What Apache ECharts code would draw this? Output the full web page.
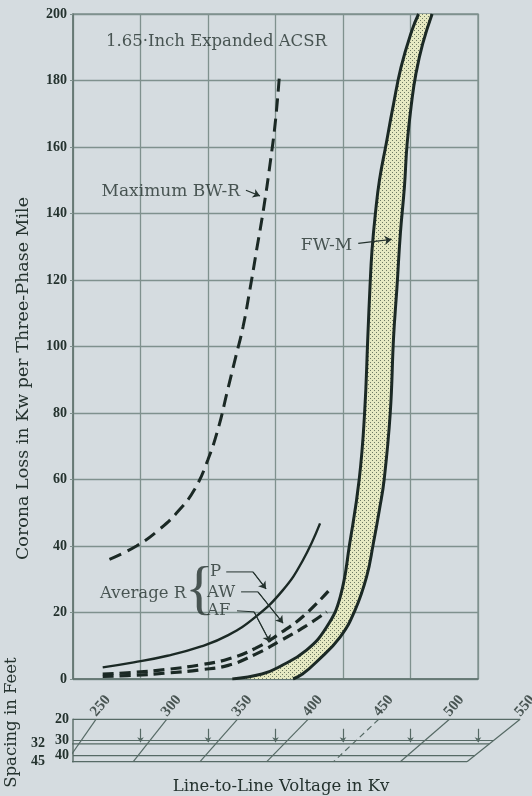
<!DOCTYPE html>
<html><head><meta charset="utf-8">
<script src="https://cdn.jsdelivr.net/npm/echarts@6/dist/echarts.min.js"></script>
<style>html,body{margin:0;padding:0;background:#d5dce0;}#c{width:532px;height:796px;}</style>
</head><body><div id="c"></div>
<script>
// ---------- DATA ----------
const voltageTicks = [250, 300, 350, 400, 450, 500, 550];
const lossTicks = [0, 20, 40, 60, 80, 100, 120, 140, 160, 180, 200];
const spacingTicks = [20, 30, 32, 40, 45];

// [kV, kW per three-phase mile]
const maxBWR = [[277,36],[297,40],[314,45],[328,50.5],[340,57],[350,66],[358,76],[364,86],[370,96],[376,106],[381,117],[386,129],[391,141],[396,155],[400,168],[403,182]];
const avgP  = [[272,3.5],[295,5.0],[320,7.0],[345,9.8],[365,13.2],[385,18.6],[405,26.5],[420,35.5],[433,46.8]];
const avgAW = [[272,1.5],[295,2.0],[320,2.9],[345,4.3],[365,6.0],[385,9.2],[405,14.2],[422,19.4],[440,26.8]];
const avgAF = [[272,0.8],[295,1.1],[320,1.8],[345,2.8],[365,4.1],[385,7.4],[405,11.8],[422,15.8],[438,20.2]];
const fwmLow  = [[368,0],[390,1.5],[403,3.7],[423,8.7],[438,15.7],[448,24.8],[455,40.8],[462,60],[466,80],[468.5,104],[470,118],[471.5,129],[474,140],[477,150],[482,161],[487,172],[493,184],[501,195],[506,200]];
const fwmHigh = [[413,0],[420,1.5],[430.5,5.2],[448,12.7],[459,20.8],[467.5,30.8],[472.5,40.8],[477,51],[480.5,60],[485,80],[487.5,103],[490,118],[492.5,134],[495.5,148],[497.5,161],[501,174],[504,182],[509,191],[516,200]];

// ---------- STYLE ----------
const SERIF = '"DejaVu Serif", serif';
const TIMES = '"Liberation Serif", serif';
const INK = '#1b2925';
const TXT = '#24322e';
const GRIDC = '#7f918e';
const PGRID = '#566a65';

// spacing axis is logarithmic: plotted as ln(spacing)
const L = Math.log;
// perspective of the spacing chart: main-scale position of voltage V at spacing s
function persp(V, s) {
  const t = L(s / 20) / L(45 / 20);
  const top = 267.0 + 1.0474 * (V - 250);
  const bot = 245.2 + 0.9889 * (V - 250);
  return top + (bot - top) * t;
}

// dotted fill pattern
const pc = document.createElement('canvas');
pc.width = 4; pc.height = 4;
const g = pc.getContext('2d');
g.fillStyle = '#e6e9c2'; g.fillRect(0, 0, 4, 4);
g.fillStyle = 'rgba(60,75,60,0.7)';
g.fillRect(0, 0, 1, 1); g.fillRect(2, 2, 1, 1);

const series = [];

// band fill
series.push({
  type: 'custom', xAxisIndex: 0, yAxisIndex: 0, clip: true, silent: true, z: 1,
  data: [[0, 0]],
  renderItem: function (params, api) {
    const pts = [];
    fwmLow.forEach(p => pts.push(api.coord(p)));
    fwmHigh.slice().reverse().forEach(p => pts.push(api.coord(p)));
    return { type: 'polygon', shape: { points: pts, smooth: 0.25 }, style: { fill: { image: pc, repeat: 'repeat' }, stroke: null } };
  }
});

function curve(data, width, dash) {
  return {
    type: 'line', xAxisIndex: 0, yAxisIndex: 0, data: data, smooth: 0.45, symbol: 'none', silent: true, z: 3,
    lineStyle: { color: INK, width: width, type: dash || 'solid', cap: 'butt' }
  };
}
series.push(curve(fwmLow, 3));
series.push(curve(fwmHigh, 3));
series.push(curve(avgP, 2.4));
series.push(curve(avgAW, 3.2, [11, 6]));
series.push(curve(avgAF, 3.2, [11, 6]));
series.push(curve(maxBWR, 3, [13, 7]));

// annotation texts (placed in data coordinates)
function txt(name, pos, align, size, font, weight) {
  return {
    name: name, value: pos,
    label: { show: true, formatter: '{b}', position: 'inside', align: align, verticalAlign: 'middle',
      fontFamily: font || SERIF, fontSize: size || 16, color: TXT, fontWeight: weight || 'normal' }
  };
}
series.push({
  type: 'scatter', xAxisIndex: 0, yAxisIndex: 0, symbolSize: 0, silent: true, z: 5,
  data: [
    txt('1.65\u00B7Inch Expanded ACSR', [274.4, 191.6], 'left', 16.5),
    txt('Maximum BW-R', [373.7, 146.5], 'right', 17),
    txt('FW-M', [456.7, 130.5], 'right', 17),
    txt('Average R', [333.8, 25.6], 'right', 16.5),
    txt('{', [343.6, 26.4], 'center', 60, TIMES),
    txt('P', [351.5, 32.2], 'left', 16.5),
    txt('AW', [349.3, 25.9], 'left', 16.5),
    txt('AF', [349.3, 20.5], 'left', 16.5)
  ]
});

// leader lines
series.push({
  type: 'lines', coordinateSystem: 'cartesian2d', xAxisIndex: 0, yAxisIndex: 0, polyline: true, silent: true, z: 4,
  lineStyle: { color: TXT, width: 1, opacity: 1 },
  data: [
    { coords: [[363.5, 32.2], [383.3, 32.2], [393, 27.1]] },
    { coords: [[374.5, 26.2], [387, 26.2], [405.6, 16.8]] },
    { coords: [[371.5, 20.5], [384.1, 20.2], [395.9, 11.1]] }
  ]
});
series.push({
  type: 'lines', coordinateSystem: 'cartesian2d', xAxisIndex: 0, yAxisIndex: 0, silent: true, z: 4,
  symbol: ['none', 'arrow'], symbolSize: 7,
  lineStyle: { color: TXT, width: 1.2, opacity: 1 },
  data: [
    { coords: [[383.3, 32.2], [393, 27.1]] },
    { coords: [[387, 26.2], [405.6, 16.8]] },
    { coords: [[384.1, 20.2], [395.9, 11.1]] },
    { coords: [[378.1, 147], [388.5, 145.3]] },
    { coords: [[461.3, 131], [486, 132.2]] }
  ]
});

// ---------- spacing (perspective) chart ----------
voltageTicks.forEach(function (V) {
  series.push({
    type: 'line', xAxisIndex: 1, yAxisIndex: 1, symbol: 'none', silent: true, clip: true,
    data: [[persp(V, 20), L(20)], [persp(V, 45), L(45)]],
    lineStyle: { color: PGRID, width: 1.2, type: V === 450 ? [6, 4] : 'solid' }
  });
});
spacingTicks.forEach(function (s) {
  const x0 = (s === 32 || s === 45) ? 233 : 250;
  series.push({
    type: 'line', xAxisIndex: 1, yAxisIndex: 1, symbol: 'none', silent: true, clip: false,
    data: [[x0, L(s)], [persp(550, s), L(s)]],
    lineStyle: { color: PGRID, width: 1.2 }
  });
});
series.push({
  type: 'lines', coordinateSystem: 'cartesian2d', xAxisIndex: 1, yAxisIndex: 1, silent: true,
  symbol: ['none', 'arrow'], symbolSize: 5,
  lineStyle: { color: PGRID, width: 1.2, opacity: 1 },
  data: voltageTicks.slice(1).map(V => ({ coords: [[V, L(24)], [V, L(31)]] }))
});
// rotated voltage labels at the spacing-20 ends
series.push({
  type: 'scatter', xAxisIndex: 1, yAxisIndex: 1, symbolSize: 0, silent: true,
  data: voltageTicks.map(V => ({ value: [persp(V, 20), L(20)], name: String(V) })),
  label: { show: true, formatter: '{b}', position: 'inside', align: 'left', verticalAlign: 'middle', rotate: 50,
    offset: [2, -5], fontFamily: TIMES, fontWeight: 'bold', fontSize: 15, color: TXT }
});

const option = {
  backgroundColor: '#d5dce0',
  animation: false,
  grid: [
    { left: 73, top: 14, width: 405, height: 665, show: true, borderColor: GRIDC, borderWidth: 1.3, backgroundColor: 'transparent',
      containLabel: false, outerBoundsMode: 'none' },
    { left: 73, top: 719.3, width: 459, height: 42.4, containLabel: false, outerBoundsMode: 'none' }
  ],
  xAxis: [
    { gridIndex: 0, type: 'value', min: 250, max: 550, interval: 50,
      axisLabel: { show: false }, axisTick: { show: false },
      axisLine: { show: true, lineStyle: { color: '#5f726d', width: 1.5 } },
      splitLine: { show: true, lineStyle: { color: GRIDC, width: 1.3 } } },
    { gridIndex: 1, type: 'value', min: 250, max: 590,
      axisLabel: { show: false }, axisTick: { show: false }, axisLine: { show: false }, splitLine: { show: false },
      name: 'Line-to-Line Voltage in Kv', nameLocation: 'middle', nameGap: 17,
      nameTextStyle: { fontFamily: SERIF, fontSize: 16.5, color: TXT, padding: [0, 43, 0, 0] } }
  ],
  yAxis: [
    { gridIndex: 0, type: 'value', min: 0, max: 200, interval: 20,
      axisLabel: { fontFamily: TIMES, fontWeight: 'bold', fontSize: 14, color: TXT, margin: 6,
        customValues: lossTicks },
      axisTick: { show: true, length: 3, lineStyle: { color: GRIDC } },
      axisLine: { show: true, lineStyle: { color: '#5f726d', width: 1.5 } },
      splitLine: { show: true, lineStyle: { color: GRIDC, width: 1.3 } },
      name: 'Corona Loss in Kw per Three-Phase Mile', nameLocation: 'middle', nameGap: 41,
      nameTextStyle: { fontFamily: SERIF, fontSize: 17.5, color: TXT, padding: [0, 64, 0, 0] } },
    { gridIndex: 1, type: 'value', min: L(20), max: L(45), inverse: true,
      axisLine: { show: true, lineStyle: { color: '#5f726d', width: 1.5 } },
      axisTick: { show: false }, splitLine: { show: false },
      axisLabel: { show: true, customValues: spacingTicks.map(L), fontFamily: TIMES, fontWeight: 'bold', fontSize: 14, color: TXT, margin: 4,
        formatter: function (v) { const s = Math.round(Math.exp(v)); return (s === 32 || s === 45) ? '{far|' + s + '}' : String(s); },
        rich: { far: { padding: [0, 24, 0, 0], fontFamily: TIMES, fontWeight: 'bold', fontSize: 14, color: TXT } } },
      name: 'Spacing in Feet', nameLocation: 'middle', nameGap: 42,
      nameTextStyle: { fontFamily: SERIF, fontSize: 16.5, color: TXT, padding: [0, 0, 0, 36] } }
  ],
  series: series
};
const chart = echarts.init(document.getElementById('c'), null, { renderer: 'canvas' });
chart.setOption(option);
</script>
</body></html>
